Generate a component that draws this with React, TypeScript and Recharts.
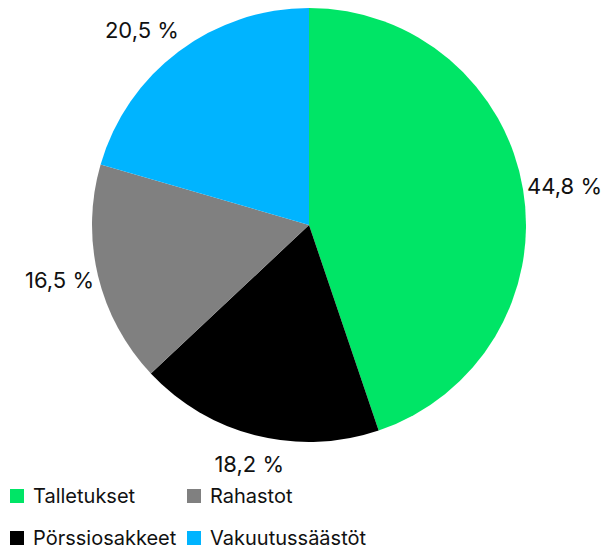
import { PieChart, Pie, Cell } from "recharts";

const categories = ["Talletukset", "Pörssiosakkeet", "Rahastot", "Vakuutussäästöt"];
const shares = [44.8, 18.2, 16.5, 20.5];
const colors = ["#00E566", "#000000", "#808080", "#00B4FF"];
const legendOrder = ["Talletukset", "Rahastot", "Pörssiosakkeet", "Vakuutussäästöt"];

const data = categories.map((name, i) => ({ name, value: shares[i] }));
const RAD = Math.PI / 180;
const fmt = (v: number) => v.toFixed(1).replace(".", ",") + " %";

function renderLabel(props: any) {
  const { cx, cy, midAngle, outerRadius, value } = props;
  const cos = Math.cos(-midAngle * RAD);
  const sin = Math.sin(-midAngle * RAD);
  // labels further out near top/bottom, closer at the sides
  const r = outerRadius + 20 + 10 * Math.abs(sin) * Math.abs(sin);
  let x = cx + r * cos;
  const y = cy + r * sin;
  let anchor: "start" | "end" | "middle" = "middle";
  if (cos > 0.3) {
    anchor = "start";
    x -= 16;
  } else if (cos < -0.3) {
    anchor = "end";
    x += 16;
  }
  return (
    <text x={x} y={y} textAnchor={anchor} dominantBaseline="central" fill="#111" fontSize={22}>
      {fmt(value)}
    </text>
  );
}

export default function App() {
  return (
    <div style={{ position: "absolute", left: 0, top: 0, width: 607, height: 552, fontFamily: "Inter, sans-serif", background: "#fff" }}>
      <PieChart width={607} height={552} margin={{ top: 0, right: 0, bottom: 0, left: 0 }}>
        <Pie
          data={data}
          dataKey="value"
          nameKey="name"
          cx={309}
          cy={225}
          outerRadius={217}
          startAngle={90}
          endAngle={-270}
          stroke="none"
          label={renderLabel}
          labelLine={false}
          isAnimationActive={false}
        >
          {data.map((d, i) => (
            <Cell key={d.name} fill={colors[i]} />
          ))}
        </Pie>
      </PieChart>
      <div style={{ position: "absolute", left: 10, top: 483, display: "grid", gridTemplateColumns: "177px auto", rowGap: 17, fontSize: 20, color: "#111" }}>
        {legendOrder.map((name) => (
          <div key={name} style={{ display: "flex", alignItems: "center", height: 25 }}>
            <span style={{ width: 14, height: 14, background: colors[categories.indexOf(name)], marginRight: 9, display: "inline-block" }} />
            <span>{name}</span>
          </div>
        ))}
      </div>
    </div>
  );
}
